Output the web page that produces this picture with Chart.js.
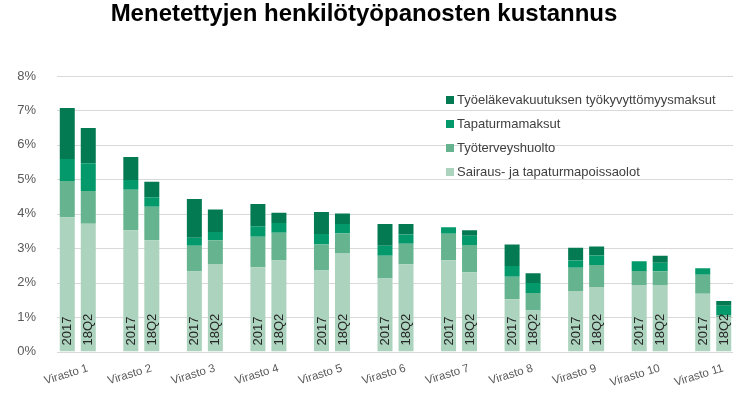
<!DOCTYPE html>
<html>
<head>
<meta charset="utf-8">
<script src="https://cdn.jsdelivr.net/npm/chart.js@4/dist/chart.umd.min.js"></script>
<style>
  body { margin: 0; background: #fff; }
  #wrap { width: 750px; height: 399px; position: relative; }
</style>
</head>
<body>
<div id="wrap"><canvas id="chart"></canvas></div>
<script>
var chartTitle = "Menetettyjen henkilötyöpanosten kustannus";
var categories = ["Virasto 1", "Virasto 2", "Virasto 3", "Virasto 4", "Virasto 5", "Virasto 6",
    "Virasto 7", "Virasto 8", "Virasto 9", "Virasto 10", "Virasto 11"];
var periods = ["2017", "18Q2"];
var seriesNames = ["Sairaus- ja tapaturmapoissaolot", "Työterveyshuolto", "Tapaturmamaksut",
    "Työeläkevakuutuksen työkyvyttömyysmaksut"];
var seriesColors = ["#abd3bd", "#66b48f", "#03996a", "#047a52"];
var yTicks = [0, 1, 2, 3, 4, 5, 6, 7, 8];

// values in %, per period, bottom to top
var poissaolot2017 = [3.90, 3.52, 2.32, 2.45, 2.35, 2.12, 2.65, 1.52, 1.76, 1.93, 1.68];
var terveys2017 = [1.05, 1.18, 0.75, 0.88, 0.76, 0.66, 0.77, 0.65, 0.67, 0.41, 0.55];
var tapaturma2017 = [0.64, 0.28, 0.23, 0.31, 0.30, 0.29, 0.19, 0.31, 0.21, 0.28, 0.19];
var elake2017 = [1.48, 0.67, 1.13, 0.64, 0.64, 0.63, 0, 0.63, 0.37, 0, 0];

var poissaolot18Q2 = [3.71, 3.23, 2.54, 2.64, 2.86, 2.53, 2.30, 1.19, 1.87, 1.93, 1.00];
var terveys18Q2 = [0.95, 0.97, 0.69, 0.81, 0.57, 0.60, 0.79, 0.51, 0.64, 0.40, 0.05];
var tapaturma18Q2 = [0.81, 0.28, 0.24, 0.28, 0.27, 0.27, 0.27, 0.29, 0.28, 0.25, 0.28];
var elake18Q2 = [1.02, 0.45, 0.65, 0.30, 0.31, 0.30, 0.16, 0.28, 0.26, 0.20, 0.14];

var valuesByPeriod = {
    "2017": [poissaolot2017, terveys2017, tapaturma2017, elake2017],
    "18Q2": [poissaolot18Q2, terveys18Q2, tapaturma18Q2, elake18Q2]
};

var datasets = [];
periods.forEach(function (p) {
    seriesNames.forEach(function (name, i) {
        datasets.push({
            label: name,
            stack: p,
            serie: i,
            data: valuesByPeriod[p][i],
            backgroundColor: seriesColors[i],
            borderWidth: 0,
            categoryPercentage: 0.661,
            barPercentage: 0.714
        });
    });
});

var fontFam = "'Liberation Sans', Arial, sans-serif";

// horizontal gridlines (slightly narrower than the bar area, like the original)
var gridPlugin = {
    id: "grid",
    beforeDatasetsDraw: function (chart) {
        var ctx = chart.ctx, y = chart.scales.y, a = chart.chartArea;
        ctx.save();
        ctx.strokeStyle = "#d9d9d9";
        ctx.lineWidth = 1;
        yTicks.forEach(function (t) {
            var py = Math.round(y.getPixelForValue(t)) + 0.5;
            ctx.beginPath();
            ctx.moveTo(a.left + 11, py);
            ctx.lineTo(a.right - 12, py);
            ctx.stroke();
        });
        ctx.restore();
    }
};

// period name written up the bottom of each bar
var barLabelPlugin = {
    id: "barLabels",
    afterDatasetsDraw: function (chart) {
        var ctx = chart.ctx;
        ctx.save();
        ctx.font = "13px " + fontFam;
        ctx.fillStyle = "#262626";
        ctx.textAlign = "left";
        ctx.textBaseline = "middle";
        chart.data.datasets.forEach(function (ds, di) {
            if (ds.serie !== 0) return;
            chart.getDatasetMeta(di).data.forEach(function (el) {
                ctx.save();
                ctx.translate(el.x + 0.5, el.base - 6);
                ctx.rotate(-Math.PI / 2);
                ctx.fillText(ds.stack, 0, 0);
                ctx.restore();
            });
        });
        ctx.restore();
    }
};

var titleLegendPlugin = {
    id: "titleLegend",
    afterDraw: function (chart) {
        var ctx = chart.ctx;
        ctx.save();
        ctx.font = "bold 24px " + fontFam;
        ctx.fillStyle = "#000";
        ctx.textAlign = "center";
        ctx.textBaseline = "alphabetic";
        ctx.fillText(chartTitle, 364, 21);

        ctx.font = "13px " + fontFam;
        ctx.textAlign = "left";
        ctx.textBaseline = "middle";
        var items = chart.data.datasets.filter(function (d) { return d.stack === periods[0]; }).reverse();
        items.forEach(function (d, i) {
            var cy = 100 + i * 24;
            ctx.fillStyle = d.backgroundColor;
            ctx.fillRect(446, cy - 4, 8, 8);
            ctx.fillStyle = "#404040";
            ctx.fillText(d.label, 457, cy);
        });
        ctx.restore();
    }
};

var chart = new Chart(document.getElementById("chart"), {
    type: "bar",
    data: { labels: categories, datasets: datasets },
    options: {
        responsive: true,
        maintainAspectRatio: false,
        animation: false,
        devicePixelRatio: 1,
        layout: { padding: { left: 0, right: 5, top: 76, bottom: 0 } },
        plugins: {
            legend: { display: false },
            title: { display: false },
            tooltip: { enabled: false }
        },
        scales: {
            x: {
                stacked: true,
                offset: true,
                grid: { display: false },
                border: { display: false },
                ticks: {
                    color: "#595959",
                    font: { size: 11.5, family: fontFam },
                    minRotation: 17,
                    maxRotation: 17,
                    labelOffset: 10,
                    padding: 2
                },
                afterFit: function (s) { s.height = 47.5; }
            },
            y: {
                stacked: true,
                min: 0,
                max: 8,
                grid: { display: false },
                border: { display: false },
                ticks: {
                    stepSize: 1,
                    padding: 2,
                    color: "#595959",
                    font: { size: 13, family: fontFam },
                    callback: function (v) { return v + "%"; }
                },
                afterFit: function (s) { s.width = 46; }
            }
        }
    },
    plugins: [gridPlugin, barLabelPlugin, titleLegendPlugin]
});
</script>
</body>
</html>
